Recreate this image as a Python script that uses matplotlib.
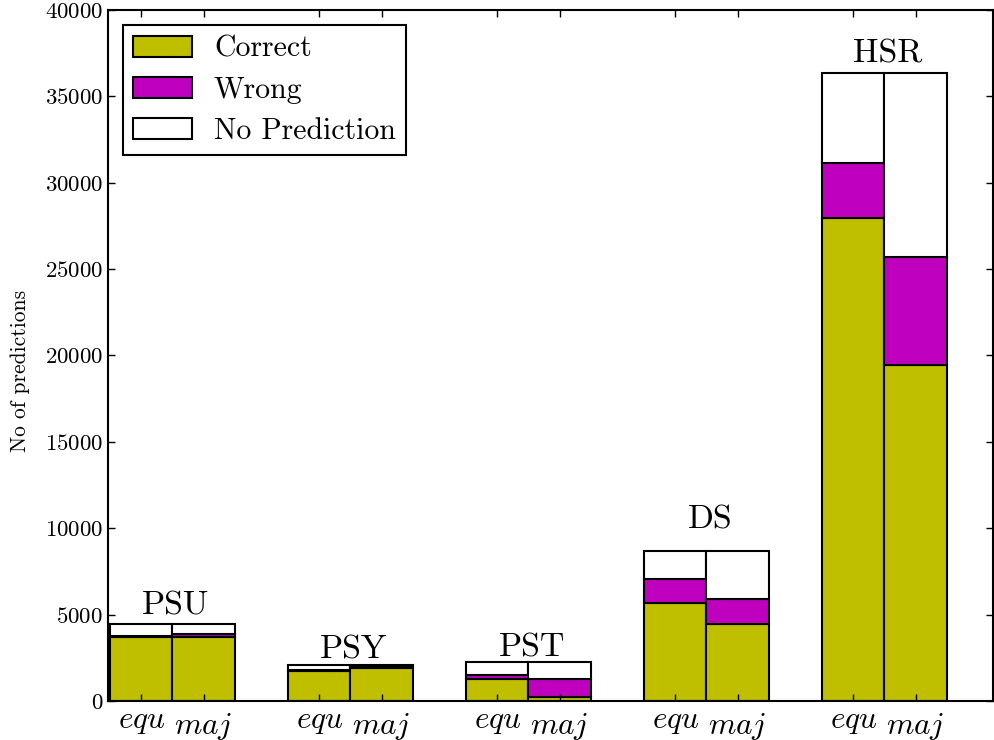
import matplotlib
matplotlib.use("Agg")
import matplotlib.pyplot as plt
import matplotlib.transforms as mtransforms
import numpy as np

plt.rcParams['font.family'] = 'serif'
plt.rcParams['font.serif'] = ['cmr10', 'DejaVu Serif']
plt.rcParams['mathtext.fontset'] = 'cm'
plt.rcParams['axes.formatter.use_mathtext'] = True

groups = ['PSU', 'PSY', 'PST', 'DS', 'HSR']
methods = ['$equ$', '$maj$']
totals = [4460, 2090, 2240, 8700, 36340]
correct_equ = [3720, 1750, 1275, 5660, 27950]
wrong_equ = [30, 40, 230, 1400, 3180]
correct_maj = [3690, 1890, 215, 4480, 19460]
wrong_maj = [190, 150, 1060, 1400, 6270]
label_gap = [520, 390, 330, 1310, 640]

legend_names = ['Correct', 'Wrong', 'No Prediction']
colors = [(0.75, 0.75, 0.0), (0.75, 0.0, 0.75), 'white']

fig = plt.figure(figsize=(9.95, 7.4), dpi=100)
ax = fig.add_axes([0.1085, 0.0527, 0.8895, 0.9338])

width = 0.35
x = np.arange(len(groups))
handles = []
for k, (corr, wr) in enumerate([(correct_equ, wrong_equ), (correct_maj, wrong_maj)]):
    corr = np.array(corr)
    wr = np.array(wr)
    nop = np.array(totals) - corr - wr
    xs = x + k * width
    h1 = ax.bar(xs, corr, width, align='edge', color=colors[0], edgecolor='black', linewidth=1.5)
    h2 = ax.bar(xs, wr, width, bottom=corr, align='edge', color=colors[1], edgecolor='black', linewidth=1.5)
    h3 = ax.bar(xs, nop, width, bottom=corr + wr, align='edge', color=colors[2], edgecolor='black', linewidth=1.5)
    if k == 0:
        handles = [h1, h2, h3]

for i, g in enumerate(groups):
    ax.text(x[i] + width + 0.02, totals[i] + label_gap[i], g, ha='center', va='baseline', fontsize=24.5)

ticks = np.concatenate([[xi + width / 2, xi + 1.5 * width] for xi in x])
ax.set_xticks(ticks)
ax.set_xticklabels(methods * len(groups), fontsize=22.5)
ax.set_xlim(-0.012, 4.96)
ax.set_ylim(0, 40000)
ax.set_yticks(np.arange(0, 40001, 5000))
ax.tick_params(axis='y', labelsize=16.5)
ax.tick_params(direction='in', top=True, right=True, length=5, width=1)
ax.tick_params(axis='x', pad=5)
shift = mtransforms.ScaledTranslation(0, -2 / 72, fig.dpi_scale_trans)
for j, lab in enumerate(ax.get_xticklabels()):
    if j % 2 == 1:
        lab.set_transform(lab.get_transform() + shift)
for s in ax.spines.values():
    s.set_linewidth(1.5)
ax.set_ylabel('No of predictions', fontsize=15.5)
ax.yaxis.set_label_coords(-0.088, 0.478)

leg = ax.legend(handles, legend_names, loc='upper left', fontsize=21.5, fancybox=False,
                edgecolor='black', framealpha=1, borderaxespad=0.5, borderpad=0.35,
                handlelength=1.95, handleheight=0.7, handletextpad=0.75, labelspacing=0.45)
leg.get_frame().set_linewidth(1.5)

fig.savefig('out.png', dpi=100)
